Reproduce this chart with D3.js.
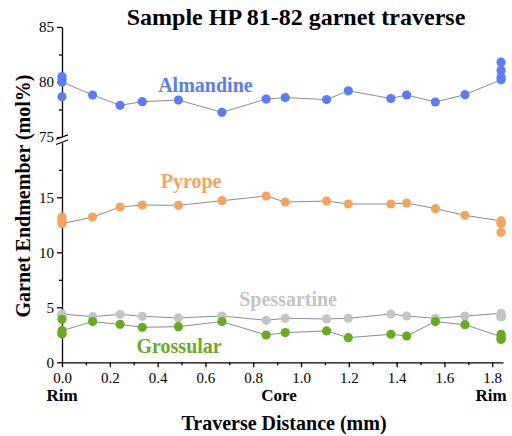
<!DOCTYPE html>
<html>
<head>
<meta charset="utf-8">
<script src="https://cdn.jsdelivr.net/npm/d3@7"></script>
<style>
  body { margin: 0; background: #fff; }
  text { font-family: "Liberation Serif", "Times New Roman", serif; }
  .axis path, .axis line { stroke: #000; stroke-width: 1.3; }
  .axis text { font-size: 15px; fill: #000; }
</style>
</head>
<body>
<script>
// traverse positions (mm) and end-member contents (mol%)
var distance = [0, 0.128, 0.243, 0.336, 0.487, 0.669, 0.854, 0.934, 1.107, 1.198, 1.376, 1.442, 1.562, 1.686, 1.837];
var almandine = [80.0, 78.82, 77.88, 78.21, 78.36, 77.24, 78.45, 78.58, 78.40, 79.20, 78.50, 78.82, 78.18, 78.85, 80.2];
var pyrope = [12.6, 13.2, 14.12, 14.3, 14.27, 14.69, 15.12, 14.57, 14.66, 14.39, 14.39, 14.48, 13.97, 13.36, 12.85];
var spessartine = [4.39, 4.15, 4.36, 4.18, 4.03, 4.21, 3.82, 4.0, 3.94, 4.0, 4.39, 4.21, 4.0, 4.21, 4.45];
var grossular = [2.88, 3.7, 3.45, 3.18, 3.24, 3.7, 2.48, 2.7, 2.85, 2.24, 2.55, 2.39, 3.7, 3.42, 2.33];

// repeated rim analyses (plotted as points only)
var rimDistance = [0, 0, 0, 1.837, 1.837, 1.837];
var almandineRim = [80.5, 80.25, 78.65, 81.8, 81.05, 80.4];
var pyropeRim = [13.2, 12.9, 12.9, 12.63, 11.82, 12.63];
var spessartineRim = [4.3, 4.3, 4.3, 4.15, 4.15, 4.15];
var grossularRim = [3.91, 2.6, 2.6, 2.55, 2.09, 2.09];

var xTicks = [0, 0.2, 0.4, 0.6, 0.8, 1.0, 1.2, 1.4, 1.6, 1.8];
var xMinor = [0.1, 0.3, 0.5, 0.7, 0.9, 1.1, 1.3, 1.5, 1.7];
var yTopTicks = [75, 80, 85], yTopMinor = [77.5, 82.5];
var yBotTicks = [0, 5, 10, 15], yBotMinor = [2.5, 7.5, 12.5, 17.5];

var W = 512, H = 436;
var x = d3.scaleLinear().domain([0, 1.845]).range([62, 503]);
var yTop = d3.scaleLinear().domain([75, 85]).range([137, 27]);
var yBot = d3.scaleLinear().domain([0, 20]).range([362.3, 142.3]);

var svg = d3.select('body').append('svg')
  .attr('width', W)
  .attr('height', H);

svg.append('rect').attr('width', W).attr('height', H).attr('fill', '#fff');

// axes
svg.append('g')
  .attr('class', 'axis')
  .attr('transform', 'translate(0,' + yBot(0) + ')')
  .call(d3.axisBottom(x).tickValues(xTicks).tickSize(5).tickSizeOuter(0).tickPadding(5)
    .tickFormat(d3.format('.1f')));
svg.append('g')
  .attr('class', 'axis')
  .attr('transform', 'translate(0,' + yBot(0) + ')')
  .call(d3.axisBottom(x).tickValues(xMinor).tickSize(3).tickSizeOuter(0).tickFormat(''))
  .select('.domain').remove();

svg.append('g')
  .attr('class', 'axis')
  .attr('transform', 'translate(' + x(0) + ',0)')
  .call(d3.axisLeft(yTop).tickValues(yTopTicks).tickSize(5).tickSizeOuter(0).tickPadding(3));
svg.append('g')
  .attr('class', 'axis')
  .attr('transform', 'translate(' + x(0) + ',0)')
  .call(d3.axisLeft(yTop).tickValues(yTopMinor).tickSize(3).tickFormat(''))
  .select('.domain').remove();

svg.append('g')
  .attr('class', 'axis')
  .attr('transform', 'translate(' + x(0) + ',0)')
  .call(d3.axisLeft(yBot).tickValues(yBotTicks).tickSize(5).tickSizeOuter(0).tickPadding(3));
svg.append('g')
  .attr('class', 'axis')
  .attr('transform', 'translate(' + x(0) + ',0)')
  .call(d3.axisLeft(yBot).tickValues(yBotMinor).tickSize(3).tickFormat(''))
  .select('.domain').remove();

// axis break marks
var bx = x(0), by = (yTop(75) + yBot(20)) / 2;
svg.append('rect').attr('x', bx - 2).attr('y', by - 2).attr('width', 4).attr('height', 4).attr('fill', '#fff');
[-2.6, 2.6].forEach(function(off) {
  svg.append('line')
    .attr('x1', bx - 6).attr('y1', by + off + 2.2)
    .attr('x2', bx + 6).attr('y2', by + off - 2.2)
    .attr('stroke', '#000').attr('stroke-width', 1.2);
});

var series = [
  {name: 'Almandine', vals: almandine, rim: almandineRim, y: yTop, color: '#5b7cf6', lx: 0.6, ly: 79.1},
  {name: 'Pyrope', vals: pyrope, rim: pyropeRim, y: yBot, color: '#f5a460', lx: 0.54, ly: 15.85},
  {name: 'Spessartine', vals: spessartine, rim: spessartineRim, y: yBot, color: '#c4c4c4', lx: 0.946, ly: 5.12},
  {name: 'Grossular', vals: grossular, rim: grossularRim, y: yBot, color: '#6aab1e', lx: 0.49, ly: 0.85}
];

series.forEach(function(s) {
  var line = d3.line()
    .x(function(d, i) { return x(distance[i]); })
    .y(function(d) { return s.y(d); });

  svg.append('path')
    .datum(s.vals)
    .attr('fill', 'none')
    .attr('stroke', '#8c8c8c')
    .attr('stroke-width', 1)
    .attr('d', line);
});

series.forEach(function(s) {
  var g = svg.append('g').attr('fill', s.color);
  g.selectAll('circle.main')
    .data(s.vals)
    .enter().append('circle')
    .attr('cx', function(d, i) { return x(distance[i]); })
    .attr('cy', function(d) { return s.y(d); })
    .attr('r', 4.6);
  g.selectAll('circle.rim')
    .data(s.rim)
    .enter().append('circle')
    .attr('cx', function(d, i) { return x(rimDistance[i]); })
    .attr('cy', function(d) { return s.y(d); })
    .attr('r', 4.6);

  svg.append('text')
    .attr('x', x(s.lx))
    .attr('y', s.y(s.ly))
    .attr('text-anchor', 'middle')
    .style('font-size', '20px')
    .style('font-weight', 'bold')
    .attr('fill', s.color)
    .text(s.name);
});

// rim / core labels
[[0, 'Rim'], [0.908, 'Core'], [1.795, 'Rim']].forEach(function(p) {
  svg.append('text')
    .attr('x', x(p[0]))
    .attr('y', 401)
    .attr('text-anchor', 'middle')
    .style('font-size', '17px')
    .style('font-weight', 'bold')
    .text(p[1]);
});

svg.append('text')
  .attr('x', 284)
  .attr('y', 430)
  .attr('text-anchor', 'middle')
  .style('font-size', '20px')
  .style('font-weight', 'bold')
  .text('Traverse Distance (mm)');

svg.append('text')
  .attr('transform', 'translate(30,196) rotate(-90)')
  .attr('text-anchor', 'middle')
  .style('font-size', '20px')
  .style('font-weight', 'bold')
  .text('Garnet Endmember (mol%)');

svg.append('text')
  .attr('x', 296)
  .attr('y', 25)
  .attr('text-anchor', 'middle')
  .style('font-size', '24px')
  .style('font-weight', 'bold')
  .text('Sample HP 81-82 garnet traverse');
</script>
</body>
</html>
